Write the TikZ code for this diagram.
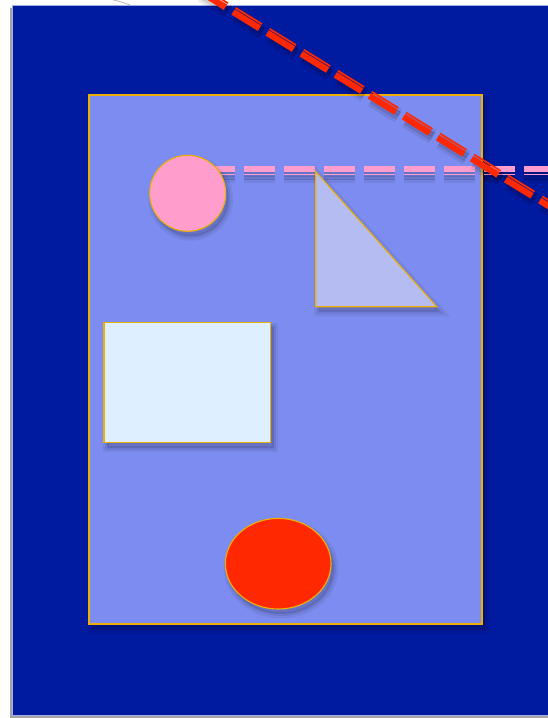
\documentclass[tikz,border=0pt]{standalone}
\usetikzlibrary{shadows}

\definecolor{navybg}{RGB}{0,26,160}
\definecolor{slidebg}{RGB}{125,140,240}
\definecolor{goldline}{RGB}{240,176,0}
\definecolor{pinkfill}{RGB}{255,158,204}
\definecolor{lilacfill}{RGB}{180,188,242}
\definecolor{palefill}{RGB}{222,240,255}
\definecolor{redfill}{RGB}{255,40,0}
\definecolor{rimline}{RGB}{165,172,230}

\begin{document}
\begin{tikzpicture}[x=1pt,y=-1pt]
\tikzstyle{rim}=[draw=goldline,line width=1.1pt]
\tikzstyle{shade}=[preaction={draw=black,opacity=.06,line width=9pt,transform canvas={shift={(3pt,-5pt)}}},
  preaction={draw=black,opacity=.07,line width=4pt,transform canvas={shift={(3pt,-5pt)}}},
  preaction={fill=black,opacity=.12,transform canvas={shift={(3pt,-5pt)}}}]
\tikzstyle{dashline}=[dash pattern=on 31pt off 9pt]
\useasboundingbox (0,0) rectangle (548,718);
\fill[white] (0,0) rectangle (548,718);
\clip (0,0) rectangle (548,718);
% backdrop
\draw[gray!70,line width=.6pt] (108,-1) .. controls (119,1) .. (130,5);
\filldraw[fill=navybg,draw=rimline,line width=.8pt,drop shadow={shadow xshift=-3pt,shadow yshift=-3pt,opacity=.7}] (12.7,5) rectangle (570,715);
% slide
\filldraw[fill=slidebg,rim,shade] (89,95) rectangle (482,624);
% pink guide line
\foreach \dy/\w in {169.2/6.3,174.5/1.7} {
  \draw[black,opacity=.07,line width=\w pt+6pt,dashline] (164,\dy+5) -- (570,\dy+5);
  \draw[black,opacity=.1,line width=\w pt,dashline] (164,\dy+5) -- (570,\dy+5);
}
\foreach \dy/\w in {169.2/6.3,174.5/1.7}
  \draw[pinkfill,line width=\w pt,dashline] (164,\dy) -- (570,\dy);
% shapes
\filldraw[fill=pinkfill,rim,shade] (187.7,193.3) circle[radius=38];
\filldraw[fill=lilacfill,rim,shade] (315.7,171.7) -- (315.7,306.7) -- (436.7,306.7) -- cycle;
\filldraw[fill=palefill,rim,line width=1.5pt,shade] (104,322.3) rectangle (270.7,442.7);
\filldraw[fill=redfill,rim,shade] (278.2,563.7) ellipse[x radius=52.8,y radius=45.3];
% red guide line
\foreach \dx/\dy/\w in {0/0/6.3,2.5/-4.1/1.8} {
  \draw[black,opacity=.08,line width=\w pt+6pt,dashline] (199+\dx+2,-9+\dy+5) -- (580+\dx+2,225.3+\dy+5);
  \draw[black,opacity=.12,line width=\w pt,dashline] (199+\dx+2,-9+\dy+5) -- (580+\dx+2,225.3+\dy+5);
}
\foreach \dx/\dy/\w in {0/0/6.3,2.5/-4.1/1.8}
  \draw[redfill,line width=\w pt,dashline] (199+\dx,-9+\dy) -- (580+\dx,225.3+\dy);
\end{tikzpicture}
\end{document}
